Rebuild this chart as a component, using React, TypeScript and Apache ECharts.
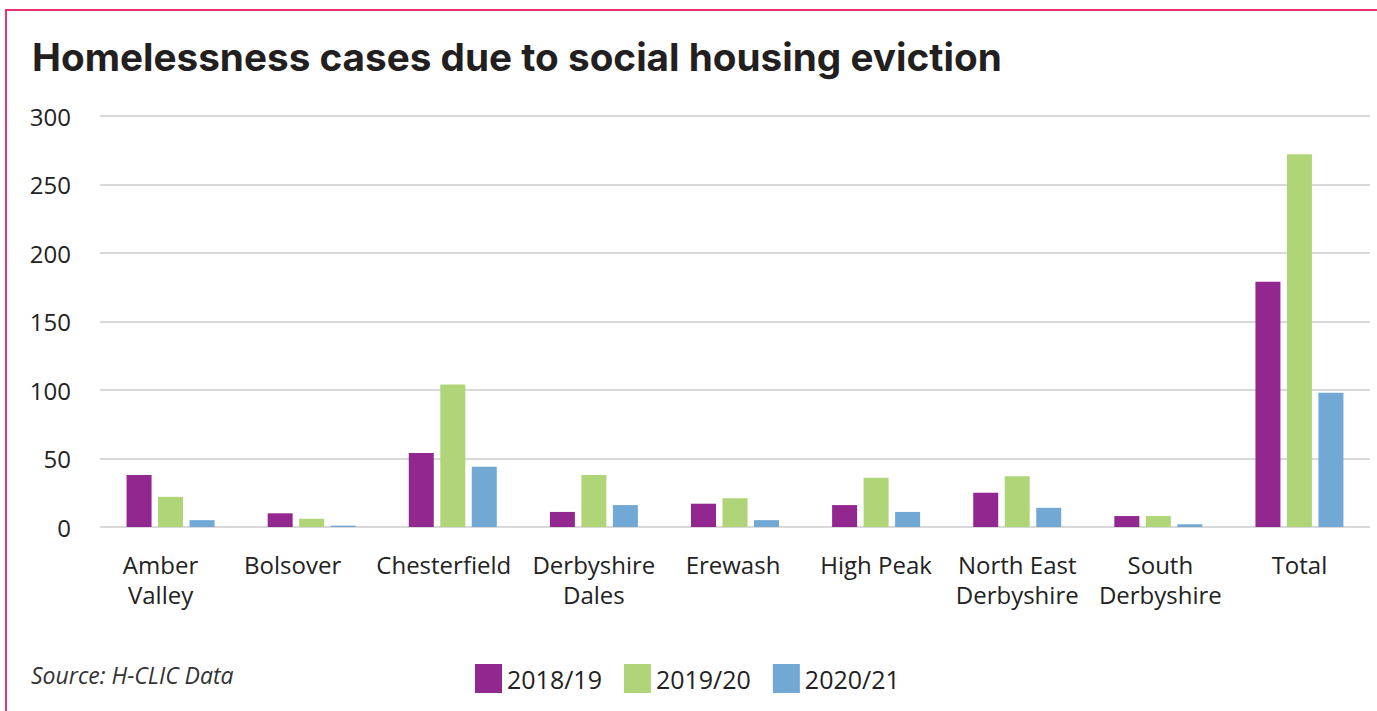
import React, { useEffect, useRef } from "react";
import * as echarts from "echarts";

const categories = [
  "Amber\nValley",
  "Bolsover",
  "Chesterfield",
  "Derbyshire\nDales",
  "Erewash",
  "High Peak",
  "North East\nDerbyshire",
  "South\nDerbyshire",
  "Total",
];
// horizontal label nudges (px, negative = left) to mimic the original label placement
const labelShift = [-10, -19, -9, 0, -2, 0, 0, 2, 0];
const seriesNames = ["2018/19", "2019/20", "2020/21"];
const values2018 = [38, 10, 54, 11, 17, 16, 25, 8, 179];
const values2019 = [22, 6, 104, 38, 21, 36, 37, 8, 272];
const values2020 = [5, 1, 44, 16, 5, 11, 14, 2, 98];
const colors = ["#92278F", "#B0D578", "#71A8D4"];

export default function App() {
  const ref = useRef<HTMLDivElement>(null);
  useEffect(() => {
    const chart = echarts.init(ref.current!, null, { renderer: "svg" });
    const data = [values2018, values2019, values2020];
    chart.setOption({
      animation: false,
      backgroundColor: "#ffffff",
      title: {
        text: "Homelessness cases due to social housing eviction",
        left: 27,
        top: 32,
        textStyle: {
          fontFamily: "Inter",
          fontWeight: 700,
          fontSize: 38.7,
          color: "#231f20",
        },
      },
      graphic: [
        {
          type: "rect",
          shape: { x: 6, y: 10, width: 1400, height: 720 },
          style: { fill: "none", stroke: "#E8336E", lineWidth: 2 },
          silent: true,
        },
        {
          type: "text",
          left: 31,
          top: 663,
          style: {
            text: "Source: H-CLIC Data",
            fontFamily: "Open Sans",
            fontStyle: "italic",
            fontSize: 23,
            fill: "#333333",
          },
        },
      ],
      legend: {
        left: 470,
        top: 659,
        itemWidth: 27,
        itemHeight: 29,
        itemGap: 22,
        icon: "rect",
        textStyle: {
          fontFamily: "Open Sans",
          fontSize: 25,
          color: "#222222",
        },
        data: seriesNames,
      },
      grid: { left: 100, right: 7, top: 116, bottom: 184 },
      xAxis: {
        type: "category",
        data: categories.map((c, i) => ({
          value: c,
          textStyle: {
            padding:
              labelShift[i] < 0
                ? [0, -2 * labelShift[i], 0, 0]
                : [0, 0, 0, 2 * labelShift[i]],
          },
        })),
        axisLine: { show: false },
        axisTick: { show: false },
        axisLabel: {
          interval: 0,
          margin: 22,
          fontFamily: "Open Sans",
          fontSize: 24,
          lineHeight: 30,
          color: "#222222",
        },
      },
      yAxis: {
        type: "value",
        min: 0,
        max: 300,
        interval: 50,
        axisLine: { show: false },
        axisTick: { show: false },
        axisLabel: {
          margin: 29,
          fontFamily: "Open Sans",
          fontSize: 24,
          color: "#222222",
        },
        splitLine: { lineStyle: { color: "#d9d9d9", width: 2 } },
      },
      series: seriesNames.map((name, i) => ({
        name,
        type: "bar",
        data: data[i],
        barWidth: 25,
        barGap: "26%",
        itemStyle: { color: colors[i] },
      })),
    });
    return () => chart.dispose();
  }, []);
  return (
    <div
      ref={ref}
      style={{ position: "fixed", left: 0, top: 0, width: 1377, height: 711 }}
    />
  );
}
